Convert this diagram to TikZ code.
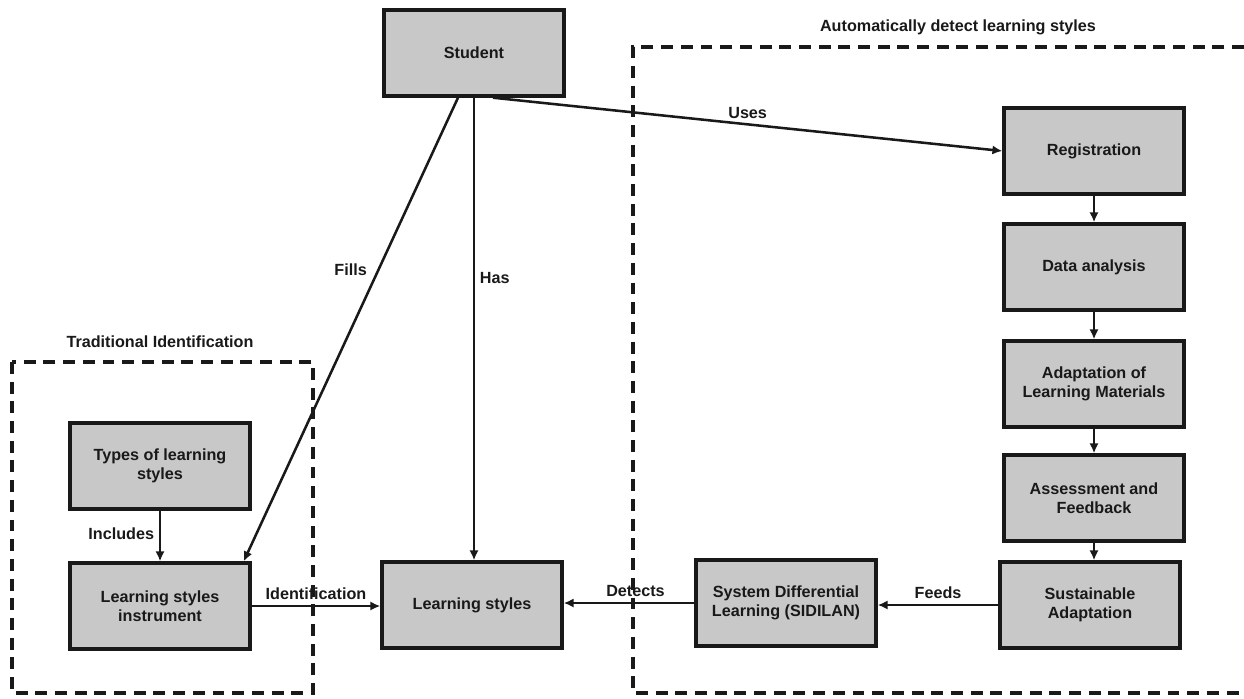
\documentclass[tikz,border=0pt]{standalone}
\usepackage{fontspec}
\setmainfont{Liberation Sans}
\usetikzlibrary{arrows.meta}
\definecolor{boxgray}{RGB}{200,200,200}
\definecolor{ink}{RGB}{25,25,25}
\begin{document}
\begin{tikzpicture}[x=0.025cm,y=-0.025cm,
        font=\fontsize{11.5}{13.5}\selectfont\bfseries,
        box/.style={draw=ink,fill=boxgray,line width=2.4pt,minimum width=4.5cm,minimum height=2.15cm,align=center,text=ink},
        frame/.style={draw=ink,line width=2.2pt,dash pattern=on 8.5pt off 5.5pt},
        link/.style={draw=ink,line width=1.8pt,-{Latex[length=7pt,width=6.5pt]}},
        lbl/.style={text=ink}]
        \useasboundingbox (0,0) rectangle (1244,698);
        \draw[frame] (12,362) rectangle (313,693);
        \draw[frame] (1244,47) -- (633,47) -- (633,693) -- (1244,693);
        \node[lbl] (trad) at (160,342) {Traditional Identification};
        \node[lbl] (auto) at (958,27) {Automatically detect learning styles};
        \node[box] (stu) at (474,53) {Student};
        \node[box] (reg) at (1094,151) {Registration};
        \node[box] (data) at (1094,267) {Data analysis};
        \node[box] (adapt) at (1094,384) {Adaptation of\\Learning Materials};
        \node[box] (assess) at (1094,498) {Assessment and\\Feedback};
        \node[box] (sust) at (1090,605) {Sustainable\\Adaptation};
        \node[box] (sid) at (786,603) {System Differential\\Learning (SIDILAN)};
        \node[box] (ls) at (472,605) {Learning styles};
        \node[box] (ins) at (160,606) {Learning styles\\instrument};
        \node[box] (types) at (160,466) {Types of learning\\styles};
        \draw[link] ([xshift=0.475cm]stu.south) -- (reg.west) node[lbl,pos=0.5,anchor=south] {Uses};
        \draw[link] ([xshift=-0.4cm]stu.south) -- ([xshift=-0.2cm]ins.north east) node[lbl,pos=0.37,anchor=east,xshift=-0.15cm] {Fills};
        \draw[link] (stu.south) -- (stu.south |- ls.north) node[lbl,pos=0.39,anchor=west] {Has};
        \draw[link] (types.south) -- (ins.north) node[lbl,pos=0.45,anchor=east] {Includes};
        \draw[link] (ins.east) -- (ins.east -| ls.west) node[lbl,pos=0.5,anchor=south] {Identification};
        \draw[link] (sid.west) -- (sid.west -| ls.east) node[lbl,pos=0.45,anchor=south] {Detects};
        \draw[link] (sust.west) -- (sust.west -| sid.east) node[lbl,pos=0.5,anchor=south] {Feeds};
        \draw[link] (reg.south) -- (data.north);
        \draw[link] (data.south) -- (adapt.north);
        \draw[link] (adapt.south) -- (assess.north);
        \draw[link] (assess.south) -- (assess.south |- sust.north);
\end{tikzpicture}
\end{document}
